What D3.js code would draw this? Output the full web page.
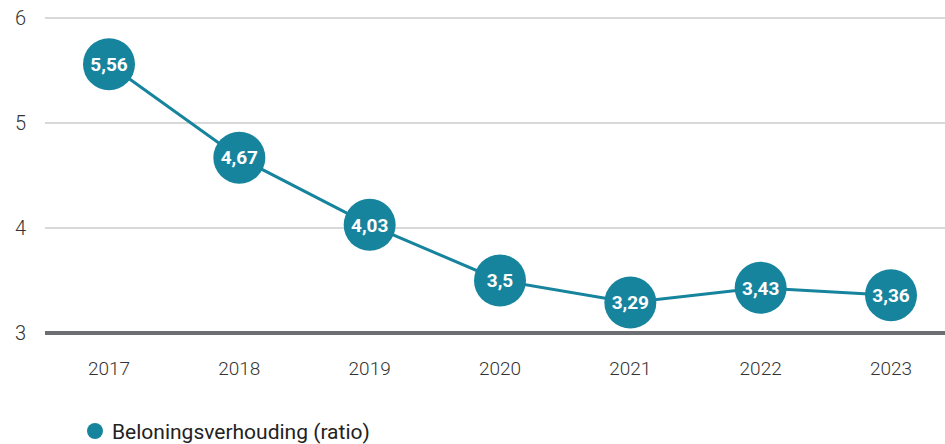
<!DOCTYPE html>
<html>
<head>
<meta charset="utf-8">
<script src="https://cdn.jsdelivr.net/npm/d3@7"></script>
<style>
  body { margin: 0; background: #fff; }
  text { font-family: Roboto, "Open Sans", sans-serif; }
</style>
</head>
<body>
<svg id="chart" width="945" height="444"></svg>
<script>
const years = ['2017', '2018', '2019', '2020', '2021', '2022', '2023'];
const ratio = [5.56, 4.67, 4.03, 3.5, 3.29, 3.43, 3.36];
const yTicks = [3, 4, 5, 6];
const seriesName = 'Beloningsverhouding (ratio)';

const teal = '#17849e';
const svg = d3.select('#chart');

// scales
const x = d3.scalePoint().domain(years).range([109, 891]);
const y = d3.scaleLinear().domain([3, 6]).range([333, 18]);

// gridlines
svg.append('g').selectAll('line')
  .data(yTicks.filter(t => t !== 3))
  .enter().append('line')
  .attr('x1', 45).attr('x2', 945)
  .attr('y1', d => y(d)).attr('y2', d => y(d))
  .attr('stroke', '#b3b3b3').attr('stroke-width', 1);

// baseline
svg.append('line')
  .attr('x1', 45).attr('x2', 945)
  .attr('y1', y(3)).attr('y2', y(3))
  .attr('stroke', '#6d6e71').attr('stroke-width', 4);

// y labels
svg.append('g').selectAll('text')
  .data(yTicks)
  .enter().append('text')
  .attr('x', 26).attr('y', d => y(d))
  .attr('dy', '0.36em')
  .attr('text-anchor', 'end')
  .attr('font-size', 20).attr('font-weight', 300)
  .attr('fill', '#333')
  .text(d => d);

// x labels
svg.append('g').selectAll('text')
  .data(years)
  .enter().append('text')
  .attr('x', d => x(d)).attr('y', 375)
  .attr('text-anchor', 'middle')
  .attr('font-size', 19).attr('font-weight', 300)
  .attr('fill', '#333')
  .text(d => d);

// the line
const line = d3.line()
  .x((d, i) => x(years[i]))
  .y(d => y(d));
svg.append('path')
  .datum(ratio)
  .attr('d', line)
  .attr('fill', 'none')
  .attr('stroke', teal)
  .attr('stroke-width', 3);

// dots with labels
const dots = svg.append('g').selectAll('g')
  .data(ratio)
  .enter().append('g')
  .attr('transform', (d, i) => `translate(${x(years[i])},${y(d)})`);
dots.append('circle').attr('r', 26).attr('fill', teal);
dots.append('text')
  .attr('text-anchor', 'middle').attr('dy', '0.36em')
  .attr('font-size', 19).attr('font-weight', 700)
  .attr('fill', '#fff')
  .text(d => String(d).replace('.', ','));

// legend
const legend = svg.append('g').attr('transform', 'translate(95,431)');
legend.append('circle').attr('r', 8).attr('fill', teal);
legend.append('text')
  .attr('x', 17).attr('dy', '0.36em')
  .attr('font-size', 21).attr('font-weight', 400)
  .attr('fill', '#222')
  .text(seriesName);
</script>
</body>
</html>
